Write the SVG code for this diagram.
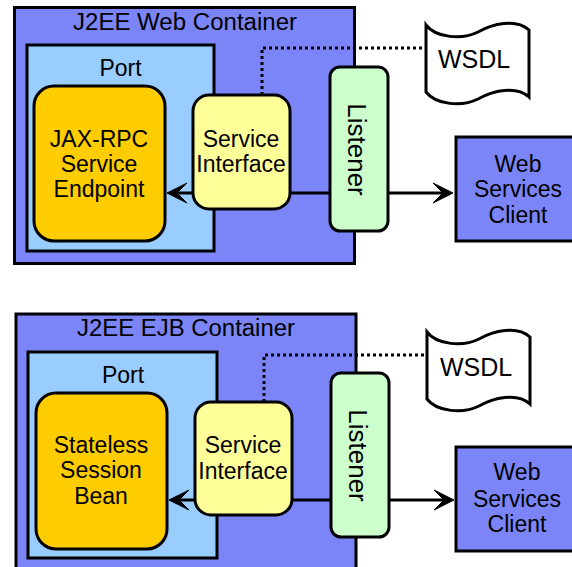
<svg xmlns="http://www.w3.org/2000/svg" width="572" height="567" viewBox="0 0 572 567">
<style>
text{font-family:"Liberation Sans",Arial,Helvetica,sans-serif;font-size:23px;fill:#000;text-anchor:middle}
.box{stroke:#000;stroke-width:3}
.cont{fill:#7b85f7}
.port{fill:#99ccff}
.ep{fill:#ffcc00}
.si{fill:#ffff99}
.lis{fill:#ccffcc}
.doc{fill:#fff}
.lis-t{font-size:26px}
.wsdl-t{font-size:25px}
.conn{stroke:#000;stroke-width:3;fill:none}
.dot{stroke:#000;stroke-width:3;fill:none;stroke-dasharray:3 3}
</style>
<defs>
<marker id="arr" markerUnits="userSpaceOnUse" markerWidth="22" markerHeight="22" viewBox="0 0 22 22" refX="11" refY="11" orient="auto" overflow="visible">
<path d="M21,11 L1,1 L11,11 L1,21 Z" fill="#000" stroke="#000" stroke-width="1" stroke-linejoin="miter"/>
</marker>
</defs>

<!-- Top diagram -->
<g id="web-container">
<rect class="box cont" x="14.5" y="7.5" width="340" height="256"/>
<text x="185" y="30" textLength="224" lengthAdjust="spacingAndGlyphs">J2EE Web Container</text>
</g>
<g id="port-1">
<rect class="box port" x="27" y="45" width="187" height="206"/>
<text x="120.5" y="76">Port</text>
</g>
<g id="jaxrpc-endpoint">
<rect class="box ep" x="34" y="86" width="131" height="155" rx="20"/>
<text x="99" y="147">JAX-RPC</text>
<text x="99" y="172">Service</text>
<text x="99" y="197">Endpoint</text>
</g>
<g id="wsdl-1">
<path class="box doc" d="M426,25 C436,38 462,40 478,32 C492,24 516,18 529,30 V97 C516,85 492,91 478,99 C462,107 436,105 426,92 Z"/>
<text class="wsdl-t" x="474" y="68">WSDL</text>
</g>
<g id="web-client-1">
<rect class="box cont" x="456" y="137" width="130" height="104"/>
<text x="518" y="172">Web</text>
<text x="518" y="197">Services</text>
<text x="518" y="223">Client</text>
</g>

<!-- Bottom diagram -->
<g id="ejb-container">
<rect class="box cont" x="16" y="314" width="340" height="270"/>
<text x="186" y="336" textLength="218" lengthAdjust="spacingAndGlyphs">J2EE EJB Container</text>
</g>
<g id="port-2">
<rect class="box port" x="28" y="352" width="189" height="206"/>
<text x="123" y="383">Port</text>
</g>
<g id="stateless-bean">
<rect class="box ep" x="36" y="393" width="131" height="156" rx="20"/>
<text x="101" y="453">Stateless</text>
<text x="101" y="478">Session</text>
<text x="101" y="504">Bean</text>
</g>
<g id="wsdl-2">
<path class="box doc" d="M427,332 C437,345 463,347 479,339 C493,331 517,325 530,337 V404 C517,392 493,398 479,406 C463,414 437,412 427,399 Z"/>
<text class="wsdl-t" x="476" y="376">WSDL</text>
</g>
<g id="web-client-2">
<rect class="box cont" x="456" y="447" width="130" height="104"/>
<text x="517" y="480">Web</text>
<text x="517" y="507">Services</text>
<text x="517" y="532">Client</text>
</g>

<!-- Connectors -->
<g id="connectors">
<path class="dot" d="M262,95 V48 H426"/>
<path class="conn" d="M193,193 H177" marker-end="url(#arr)"/>
<path class="conn" d="M290,193 H330"/>
<path class="conn" d="M388,193 H443" marker-end="url(#arr)"/>
<path class="dot" d="M264,402 V355 H427"/>
<path class="conn" d="M195,500 H179" marker-end="url(#arr)"/>
<path class="conn" d="M292,500 H331"/>
<path class="conn" d="M389,500 H444" marker-end="url(#arr)"/>
</g>

<!-- Nodes drawn over connectors -->
<g id="service-interface-1">
<rect class="box si" x="193" y="95" width="97" height="114" rx="16"/>
<text x="241" y="147">Service</text>
<text x="241" y="172">Interface</text>
</g>
<g id="listener-1">
<rect class="box lis" x="330" y="67" width="58" height="164" rx="10"/>
<text class="lis-t" transform="translate(348,149.5) rotate(90)" x="0" y="0">Listener</text>
</g>
<g id="service-interface-2">
<rect class="box si" x="195" y="402" width="97" height="113" rx="16"/>
<text x="243" y="453">Service</text>
<text x="243" y="479">Interface</text>
</g>
<g id="listener-2">
<rect class="box lis" x="331" y="373" width="58" height="164" rx="10"/>
<text class="lis-t" transform="translate(349,455.5) rotate(90)" x="0" y="0">Listener</text>
</g>
</svg>
